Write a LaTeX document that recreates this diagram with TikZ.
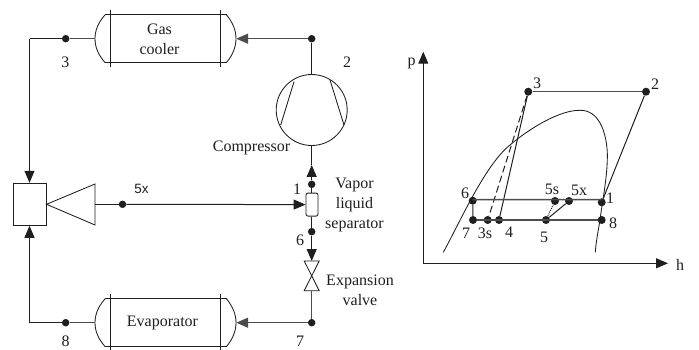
\documentclass[tikz,border=0pt]{standalone}
\usepackage{fontspec}
\setmainfont{Liberation Serif}
\newfontfamily\lblsans{Liberation Sans}
\usetikzlibrary{arrows.meta}
\definecolor{ink}{gray}{0.12}
\definecolor{pipe}{gray}{0.3}
\tikzset{
  x=1pt,y=-1pt,
  line/.style={draw=ink,line width=1pt},
  pipeline/.style={draw=pipe,line width=1.4pt},
  thin line/.style={draw=ink,line width=0.85pt},
  flow/.style={-{Triangle[length=12pt,width=10pt]}},
  dot/.style={circle,fill=ink,draw=none,inner sep=0pt,minimum size=7.5pt},
  bigdot/.style={circle,fill=ink,draw=none,inner sep=0pt,minimum size=8pt},
  lbl/.style={inner sep=0pt,text=ink,font=\fontsize{16}{18}\selectfont},
  multi/.style={lbl,align=center},
  anchorbox/.style={inner sep=0pt,minimum width=141pt,minimum height=47.5pt},
}
\newcommand{\vesselshape}[1]{%
  \draw[thin line] (105,#1-23.8) -- (226.5,#1-23.8);
  \draw[thin line] (105,#1+23.8) -- (226.5,#1+23.8);
  \draw[thin line] (105,#1-23.8) .. controls (98,#1-16) and (95,#1-8) .. (95,#1) .. controls (95,#1+8) and (98,#1+16) .. (105,#1+23.8);
  \draw[thin line] (226.5,#1-23.8) .. controls (233,#1-16) and (236,#1-8) .. (236,#1) .. controls (236,#1+8) and (233,#1+16) .. (226.5,#1+23.8);
  \draw[thin line] (110,#1-28.7) -- (110,#1+28.7);
  \draw[thin line] (220.5,#1-28.7) -- (220.5,#1+28.7);
}
\begin{document}
\begin{tikzpicture}
\useasboundingbox (0,0) rectangle (699,350);
\fill[white] (0,0) rectangle (699,350);
% ---------- cycle schematic ----------
\vesselshape{38.7}
\vesselshape{322.7}
\node[anchorbox] (cooler) at (165.5,38.7) {};
\node[anchorbox] (evap) at (165.5,322.7) {};
\node[multi] at (159.5,39) {Gas\\[2pt]cooler};
\node[lbl] at (162.5,322.5) {Evaporator};
% compressor
\node[circle,draw=ink,line width=0.85pt,minimum size=71pt,inner sep=0pt] (comp) at (311.7,110) {};
\draw[thin line] (294,81.7) -- (280.7,125);
\draw[thin line] (330,80) -- (344,125);
% mixer and nozzle
\node[draw=ink,line width=1pt,minimum width=33pt,minimum height=42pt,inner sep=0pt] (mixer) at (29.5,204.3) {};
\coordinate (noztop) at (95,184);
\coordinate (nozbot) at (95,225);
\draw[thin line] (mixer.east) -- (noztop) -- (nozbot) -- cycle;
\coordinate (nozmouth) at (95,204.3);
% separator
\node[draw=ink,line width=0.85pt,rounded corners=2pt,minimum width=12pt,minimum height=23pt,inner sep=0pt] (sep) at (312,204.6) {};
% valve
\coordinate (vtl) at (304.2,261);
\coordinate (vtr) at (319.2,261);
\coordinate (vbl) at (304.2,290.7);
\coordinate (vbr) at (319.2,290.7);
\draw[thin line] (vtl) -- (vtr) -- (vbl) -- (vbr) -- cycle;
\coordinate (vin) at (311.7,261);
\coordinate (vout) at (311.7,290.7);
% dots
\node[dot] (p3) at (65.7,38.7) {};
\node[dot] (p2) at (311.7,38.7) {};
\node[dot] (p5x) at (122.5,204.3) {};
\node[dot] (p1) at (311.7,184.3) {};
\node[dot] (p6) at (311.7,231.7) {};
\node[dot] (p7) at (311.7,322.7) {};
\node[dot] (p8) at (65.7,322.7) {};
\coordinate (ctl) at (29.5,38.7);
\coordinate (cbl) at (29.5,322.7);
\coordinate (compin) at (311.7,165);
% connectors
\draw[pipeline] (cooler.west) -- (p3);
\draw[line] (p3) -- (ctl);
\draw[line,flow] (ctl) -- (mixer.north);
\draw[line] (p2) -- (comp.north);
\draw[pipeline,flow] (p2) -- (cooler.east);
\draw[line] (comp.south) -- (compin);
\draw[line,flow] (p1) -- (compin);
\draw[line] (p1) -- (sep.north -| p1);
\draw[line] (nozmouth) -- (p5x);
\draw[line,flow] (p5x) -- (sep.west);
\draw[line] (sep.south -| p6) -- (p6);
\draw[line,flow] (p6) -- (vin);
\draw[pipeline] (vout) -- (p7);
\draw[pipeline,flow] (p7) -- (evap.east);
\draw[pipeline] (evap.west) -- (p8);
\draw[line] (p8) -- (cbl);
\draw[line,flow] (cbl) -- (mixer.south);
% labels
\node[lbl] at (65.3,62) {3};
\node[lbl] at (347,62) {2};
\node[lbl] at (251.5,148) {Compressor};
\node[lbl] at (297,189.5) {1};
\node[lbl,font=\lblsans\fontsize{13.5}{16}\selectfont] at (141.5,188.5) {5x};
\node[multi] at (354.5,205) {Vapor\\[2.2pt]liquid\\[2.2pt]separator};
\node[lbl] at (300,240) {6};
\node[multi] at (360,290) {Expansion\\[2.2pt]valve};
\node[lbl] at (300,341) {7};
\node[lbl] at (65.7,341) {8};
% ---------- p-h diagram ----------
\coordinate (o) at (423.3,263.3);
\coordinate (ytip) at (423.3,51.7);
\coordinate (xtip) at (668,263.3);
\draw[line,flow] (o) -- (ytip);
\draw[line,flow] (o) -- (xtip);
\node[lbl] at (411.5,63) {p};
\node[lbl] at (680,265) {h};
% saturation dome
\draw[thin line] (443.3,252.3) .. controls (460,222) and (485,165) .. (510,145)
  .. controls (530,128) and (560,110) .. (580,110.3)
  .. controls (598,110) and (606,130) .. (607.3,152)
  .. controls (608,175) and (602,203) .. (600,220)
  .. controls (598,232) and (596,242) .. (595.3,252.3);
% state points
\node[bigdot] (s3) at (528.3,91.7) {};
\node[bigdot] (s2) at (646,91.7) {};
\node[bigdot] (s6) at (472.7,200.7) {};
\node[bigdot] (s1) at (601.7,202.3) {};
\node[bigdot] (s5s) at (555,201) {};
\node[bigdot] (s5x) at (569,201) {};
\node[bigdot] (s7) at (473,220) {};
\node[bigdot] (s3s) at (487.7,220) {};
\node[bigdot] (s4) at (499,220) {};
\node[bigdot] (s5) at (546,220) {};
\node[bigdot] (s8) at (601.7,220) {};
% process lines
\draw[pipeline] (s3) -- (s2);
\draw[line] (s1) -- (s2);
\draw[line] (s3) -- (s4);
\draw[line,dash pattern=on 7pt off 3.5pt] (s3) -- (s3s);
\draw[pipeline] ([yshift=1pt]s6.center) -- ([yshift=2.7pt]s1.center);
\draw[line] (s6) -- (s7);
\draw[pipeline] (s7) -- (s8);
\draw[line,densely dotted] (s5) -- (s5s);
\draw[line] (s5) -- (s5x);
\node[lbl] at (537,83) {3};
\node[lbl] at (655,84) {2};
\node[lbl] at (465,193) {6};
\node[lbl] at (552,189) {5s};
\node[lbl] at (579,190.5) {5x};
\node[lbl] at (610,198.5) {1};
\node[lbl] at (613,223) {8};
\node[lbl] at (466,233) {7};
\node[lbl] at (485,233) {3s};
\node[lbl] at (509,232.5) {4};
\node[lbl] at (544,237) {5};
\end{tikzpicture}
\end{document}
